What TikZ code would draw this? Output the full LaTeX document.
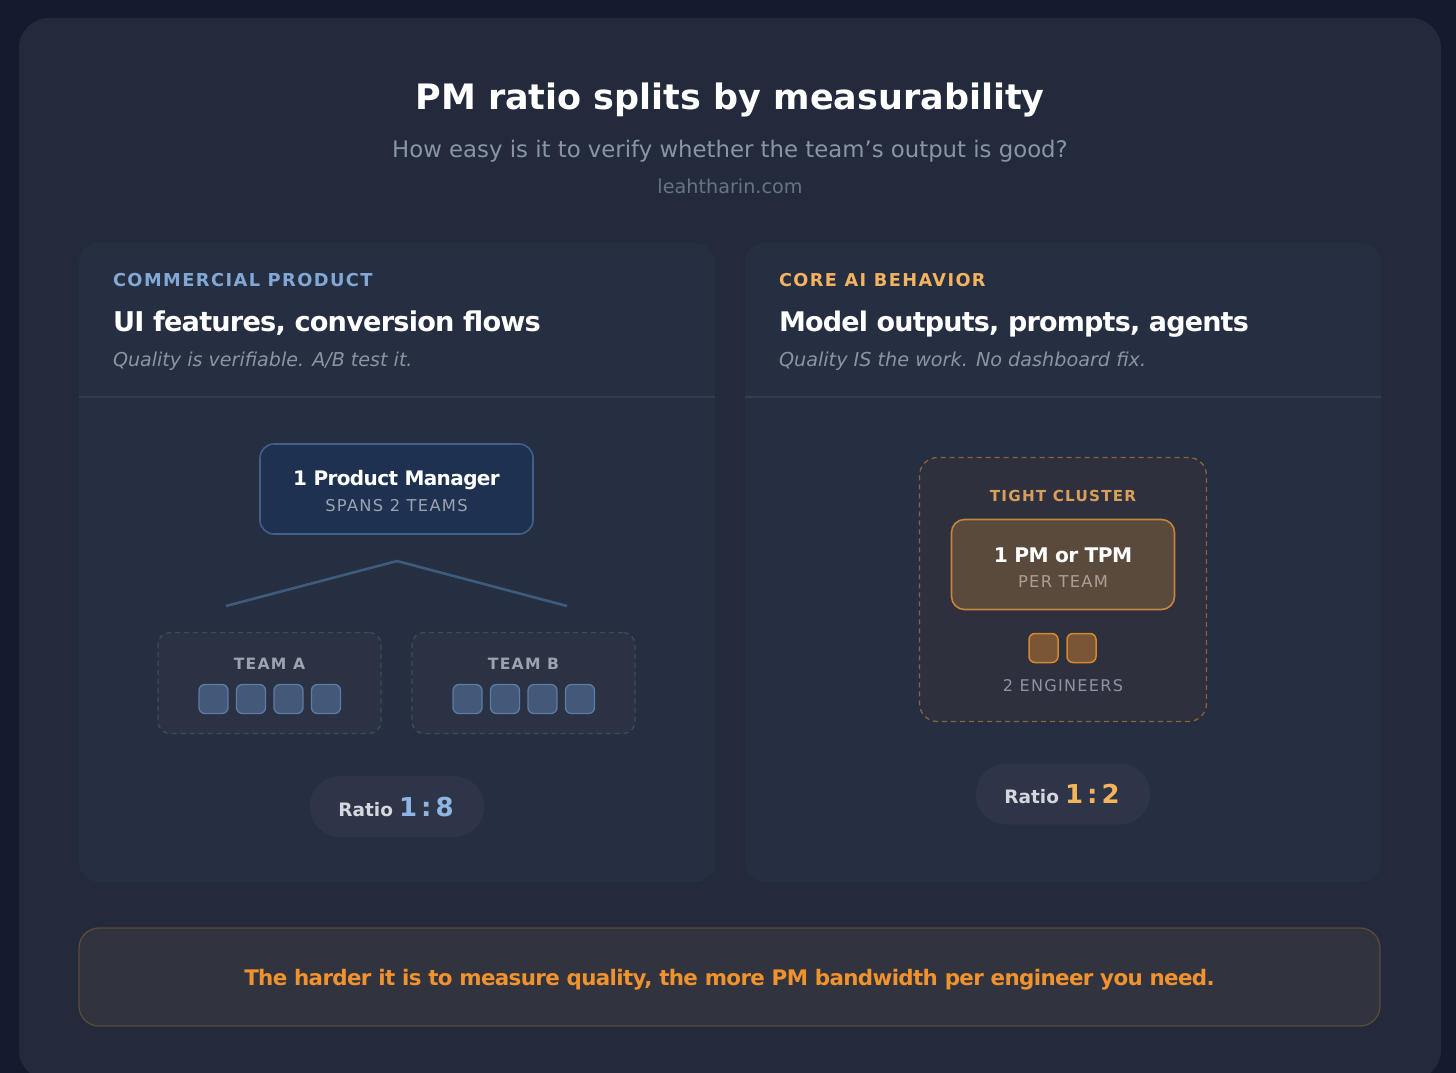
\documentclass[tikz,border=0pt]{standalone}
\usepackage{fontspec}
\setmainfont{DejaVu Sans}
\newfontfamily\spacedfont[LetterSpace=8]{DejaVu Sans}
\newfontfamily\tightfont[LetterSpace=-3]{DejaVu Sans}
\definecolor{bgc}{HTML}{141B2E}
\definecolor{cardc}{HTML}{222A3C}
\definecolor{panelc}{HTML}{262E41}
\definecolor{divc}{HTML}{343C50}
\definecolor{pmfill}{HTML}{1E3150}
\definecolor{pmdraw}{HTML}{40608A}
\definecolor{teamfill}{HTML}{2A3244}
\definecolor{teamdraw}{HTML}{3F4A5E}
\definecolor{sqfill}{HTML}{44587A}
\definecolor{sqdraw}{HTML}{5B7CA6}
\definecolor{linec}{HTML}{3E5A7C}
\definecolor{tcfill}{HTML}{2F303D}
\definecolor{tcdraw}{HTML}{8A6438}
\definecolor{infill}{HTML}{5A4A3C}
\definecolor{indraw}{HTML}{C7843C}
\definecolor{osqfill}{HTML}{7A5637}
\definecolor{osqdraw}{HTML}{D4892F}
\definecolor{pillc}{HTML}{2E3548}
\definecolor{botfill}{HTML}{31333E}
\definecolor{botdraw}{HTML}{5C4A36}
\definecolor{orangetxt}{HTML}{F0922E}
\definecolor{tantxt}{HTML}{D6A05C}
\definecolor{orlabel}{HTML}{F4B35F}
\definecolor{bluelabel}{HTML}{82A8D6}
\definecolor{bluenum}{HTML}{8FB6E3}
\definecolor{ornum}{HTML}{F6B45A}
\definecolor{ratiotxt}{HTML}{D3D7DE}
\definecolor{graytxt}{HTML}{9BA3B0}
\definecolor{subtxt}{HTML}{8B94A5}
\definecolor{urltxt}{HTML}{6A7386}
\definecolor{italtxt}{HTML}{8C94A3}
\tikzset{
  txt/.style={inner sep=0pt, outer sep=0pt},
  panel/.style={fill=panelc, rounded corners=20, inner sep=0pt, minimum width=636, minimum height=639},
  pmbox/.style={fill=pmfill, draw=pmdraw, line width=1.6, rounded corners=14, inner sep=0pt, minimum width=273, minimum height=90},
  teambox/.style={fill=teamfill, draw=teamdraw, line width=1.3, dash pattern=on 5 off 4, rounded corners=12, inner sep=0pt, minimum width=223, minimum height=101},
  sq/.style={fill=sqfill, draw=sqdraw, line width=1.3, rounded corners=6, inner sep=0pt, minimum width=29, minimum height=29},
  osq/.style={fill=osqfill, draw=osqdraw, line width=1.5, rounded corners=6, inner sep=0pt, minimum width=29, minimum height=29},
  tcbox/.style={fill=tcfill, draw=tcdraw, line width=1.3, dash pattern=on 5 off 4, rounded corners=18, inner sep=0pt, minimum width=287, minimum height=264},
  inbox/.style={fill=infill, draw=indraw, line width=1.6, rounded corners=13, inner sep=0pt, minimum width=223, minimum height=90},
  pill/.style={fill=pillc, rounded corners=30, inner sep=0pt, minimum width=174, minimum height=61},
  botbox/.style={fill=botfill, draw=botdraw, line width=1.3, rounded corners=20, inner sep=0pt, minimum width=1301, minimum height=98},
  spanline/.style={draw=linec, line width=2.6},
}
\begin{document}
\begin{tikzpicture}[x=1pt,y=-1pt]
\useasboundingbox (0,0) rectangle (1456,1073);
\fill[bgc] (0,0) rectangle (1456,1073);
\begin{scope}
\clip (0,0) rectangle (1456,1073);
\fill[cardc, rounded corners=30] (19,18) rectangle (1441,1080);
\end{scope}

% header
\node[txt, anchor=base, text=white, font=\fontsize{35}{42}\selectfont\bfseries] (title) at (730,110) {PM ratio splits by measurability};
\node[txt, anchor=base, text=subtxt, font=\fontsize{22.8}{28}\selectfont] (sub) at (730,157) {How easy is it to verify whether the team's output is good?};
\node[txt, anchor=base, text=urltxt, font=\fontsize{19.2}{24}\selectfont] (url) at (730,193) {leahtharin.com};

% panels
\node[panel] (lp) at (397,562.5) {};
\node[panel] (rp) at (1063,562.5) {};
\draw[divc, line width=1.3] (lp.west |- 0,397) -- (lp.east |- 0,397);
\draw[divc, line width=1.3] (rp.west |- 0,397) -- (rp.east |- 0,397);

% left panel text
\node[txt, anchor=base west, text=bluelabel, font=\fontsize{17.8}{22}\spacedfont\bfseries] (ll) at (113,286) {COMMERCIAL PRODUCT};
\node[txt, anchor=base west, text=white, font=\fontsize{27.2}{32}\tightfont\bfseries] (lh) at (113,331) {UI features, conversion flows};
\node[txt, anchor=base west, text=italtxt, font=\fontsize{19.1}{24}\selectfont\itshape] (li) at (113,366) {Quality is verifiable. A/B test it.};

% right panel text
\node[txt, anchor=base west, text=orlabel, font=\fontsize{17.7}{22}\spacedfont\bfseries] (rl) at (779,286) {CORE AI BEHAVIOR};
\node[txt, anchor=base west, text=white, font=\fontsize{27}{32}\tightfont\bfseries] (rh) at (779,331) {Model outputs, prompts, agents};
\node[txt, anchor=base west, text=italtxt, font=\fontsize{19.2}{24}\selectfont\itshape] (ri) at (779,366) {Quality IS the work. No dashboard fix.};

% left diagram
\node[pmbox] (pm) at (396.5,489) {};
\node[txt, anchor=base, text=white, font=\fontsize{20}{24}\tightfont\bfseries] (pmt) at (396.5,485) {1 Product Manager};
\node[txt, anchor=base, text=graytxt, font=\fontsize{16.3}{20}\spacedfont] (pms) at (396.5,511) {SPANS 2 TEAMS};
\coordinate (apex) at (397,561);
\coordinate (lend) at (226,606);
\coordinate (rend) at (567,606);
\draw[spanline] (lend) -- (apex) -- (rend);

\node[teambox] (ta) at (269.5,683) {};
\node[teambox] (tb) at (523.5,683) {};
\node[txt, anchor=base, text=graytxt, font=\fontsize{15.6}{20}\spacedfont\bfseries] (tat) at (269.5,669) {TEAM A};
\node[txt, anchor=base, text=graytxt, font=\fontsize{15.6}{20}\spacedfont\bfseries] (tbt) at (523.5,669) {TEAM B};
\foreach \i/\x in {1/213.5,2/251,3/288.5,4/326}{
  \node[sq] (a\i) at (\x,699) {};
}
\foreach \i/\x in {1/467.5,2/505,3/542.5,4/580}{
  \node[sq] (b\i) at (\x,699) {};
}

\node[pill] (lpill) at (397,806.5) {};
\node[txt, anchor=base, font=\fontsize{18.5}{22}\selectfont] (lratio) at (396,816) {\textcolor{ratiotxt}{\bfseries Ratio}\hspace{6pt}\textcolor{bluenum}{\fontsize{26}{30}\selectfont\bfseries 1\hspace{4pt}:\hspace{4pt}8}};

% right diagram
\node[tcbox] (tc) at (1063,589.5) {};
\node[txt, anchor=base, text=tantxt, font=\fontsize{15.2}{20}\spacedfont\bfseries] (tct) at (1063,501) {TIGHT CLUSTER};
\node[inbox] (inb) at (1063,564.5) {};
\node[txt, anchor=base, text=white, font=\fontsize{20.2}{24}\tightfont\bfseries] (inbt) at (1063,562) {1 PM or TPM};
\node[txt, anchor=base, text=graytxt!85!orange, font=\fontsize{16.3}{20}\spacedfont] (inbs) at (1063,587) {PER TEAM};
\node[osq] (e1) at (1043.5,648) {};
\node[osq] (e2) at (1081.5,648) {};
\node[txt, anchor=base, text=subtxt, font=\fontsize{16.1}{20}\spacedfont] (eng) at (1063,691) {2 ENGINEERS};

\node[pill] (rpill) at (1063,794) {};
\node[txt, anchor=base, font=\fontsize{18.5}{22}\selectfont] (rratio) at (1062,803) {\textcolor{ratiotxt}{\bfseries Ratio}\hspace{6pt}\textcolor{ornum}{\fontsize{26}{30}\selectfont\bfseries 1\hspace{4pt}:\hspace{4pt}2}};

% bottom
\node[botbox] (bot) at (729.5,977) {};
\node[txt, anchor=base, text=orangetxt, font=\fontsize{21.4}{25}\tightfont\bfseries] (bott) at (729.5,985) {The harder it is to measure quality, the more PM bandwidth per engineer you need.};
\end{tikzpicture}
\end{document}
